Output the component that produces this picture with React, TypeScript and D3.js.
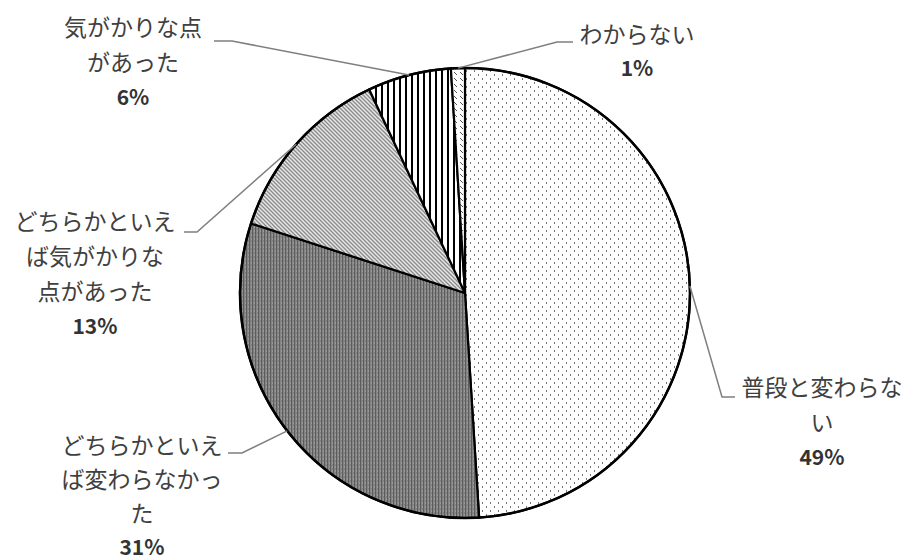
import React from "react";
import * as d3 from "d3";

// Survey answers, in clockwise order from 12 o'clock
const categories = [
  "普段と変わらない",
  "どちらかといえば変わらなかった",
  "どちらかといえば気がかりな点があった",
  "気がかりな点があった",
  "わからない",
];
const percents = [49, 31, 13, 6, 1];

// Label text broken into lines as displayed
const labelLines = [
  ["普段と変わらな", "い"],
  ["どちらかといえ", "ば変わらなかっ", "た"],
  ["どちらかといえ", "ば気がかりな", "点があった"],
  ["気がかりな点", "があった"],
  ["わからない"],
];

const W = 918;
const H = 560;
const cx = 465;
const cy = 293;
const R = 225;
const lineH = 35;
const fontFamily = "'Noto Sans CJK JP', 'Noto Sans', sans-serif";

// Label placement: block centre x, first line centre y, line spacing, leader elbow and end
const labelLayout = [
  { x: 822, y: 386, gap: 35, elbow: [722, 397], end: [735, 397] },
  { x: 142, y: 444, gap: 34, elbow: [242, 453], end: [228, 453] },
  { x: 95, y: 220, gap: 35, elbow: [197, 232], end: [184, 232] },
  { x: 133, y: 26, gap: 35, elbow: [232, 41], end: [214, 41] },
  { x: 637, y: 33, gap: 34, elbow: [557, 42], end: [573, 42] },
];

const fills = [
  "url(#pDots)",
  "url(#pDark)",
  "url(#pDiag)",
  "url(#pVert)",
  "url(#pSmallDiag)",
];

export default function App() {
  const pie = d3
    .pie<number>()
    .sort(null)
    .value((d) => d)
    .startAngle(0)
    .endAngle(2 * Math.PI);
  const arcs = pie(percents);
  const arcGen = d3.arc<d3.PieArcDatum<number>>().innerRadius(0).outerRadius(R);

  return (
    <svg
      width={W}
      height={H}
      style={{ position: "absolute", left: 0, top: 0, background: "#fff" }}
    >
      <defs>
        <pattern id="pDots" width="8" height="8" patternUnits="userSpaceOnUse">
          <rect width="8" height="8" fill="#fff" />
          <rect x="1" y="1" width="1" height="2" fill="#777" />
          <rect x="5" y="5" width="1" height="2" fill="#777" />
        </pattern>
        <pattern id="pDark" width="3" height="4" patternUnits="userSpaceOnUse">
          <rect width="3" height="4" fill="#838383" />
          <rect x="0" y="0" width="1" height="4" fill="#5c5c5c" />
          <rect x="2" y="1" width="1" height="2" fill="#9a9a9a" />
        </pattern>
        <pattern id="pDiag" width="4" height="4" patternUnits="userSpaceOnUse">
          <rect width="4" height="4" fill="#e6e6e6" />
          <path d="M-1,-1 L5,5 M-1,3 L1,5 M3,-1 L5,1" stroke="#8a8a8a" strokeWidth="1.3" />
        </pattern>
        <pattern id="pVert" width="6" height="6" patternUnits="userSpaceOnUse">
          <rect width="6" height="6" fill="#fff" />
          <rect x="0" y="0" width="2" height="6" fill="#000" />
        </pattern>
        <pattern id="pSmallDiag" width="6" height="6" patternUnits="userSpaceOnUse">
          <rect width="6" height="6" fill="#fff" />
          <path d="M1,1 L4,4" stroke="#555" strokeWidth="1" />
        </pattern>
      </defs>

      <g transform={`translate(${cx},${cy})`}>
        {arcs.map((a, i) => (
          <path
            key={categories[i]}
            d={arcGen(a) || ""}
            fill={fills[i]}
            stroke="#000"
            strokeWidth={2.2}
            strokeLinejoin="round"
          />
        ))}
        <circle r={R} fill="none" stroke="#000" strokeWidth={2.5} />
      </g>

      {arcs.map((a, i) => {
        const mid = (a.startAngle + a.endAngle) / 2;
        const ax = cx + R * Math.sin(mid);
        const ay = cy - R * Math.cos(mid);
        const L = labelLayout[i];
        return (
          <polyline
            key={`leader-${i}`}
            points={`${ax},${ay} ${L.elbow[0]},${L.elbow[1]} ${L.end[0]},${L.end[1]}`}
            fill="none"
            stroke="#7f7f7f"
            strokeWidth={1.5}
          />
        );
      })}

      {labelLines.map((lines, i) => {
        const L = labelLayout[i];
        const all = [...lines, `${percents[i]}%`];
        return (
          <g key={`label-${i}`} fontFamily={fontFamily} textAnchor="middle">
            {all.map((t, j) => {
              const isPct = j === all.length - 1;
              return (
                <text
                  key={j}
                  x={L.x}
                  y={L.y + j * L.gap}
                  dominantBaseline="central"
                  fontSize={isPct ? 21 : 23}
                  fontWeight={isPct ? 600 : 400}
                  fill={isPct ? "#333" : "#404040"}
                >
                  {t}
                </text>
              );
            })}
          </g>
        );
      })}
    </svg>
  );
}
